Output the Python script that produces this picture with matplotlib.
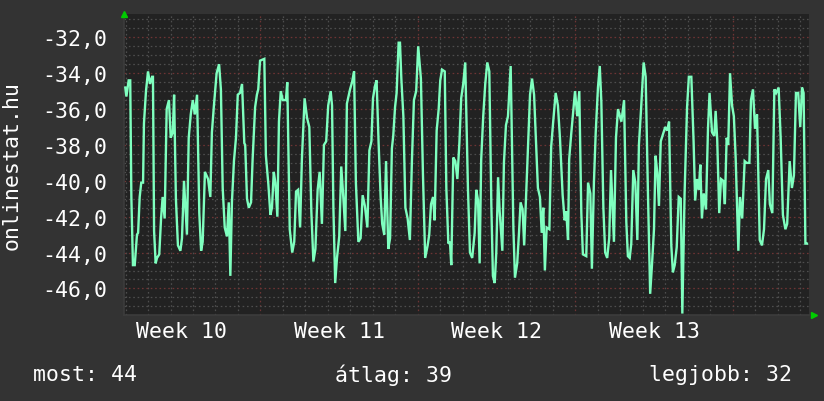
import matplotlib
matplotlib.use("Agg")
import matplotlib.pyplot as plt

# ---- data (time in days since start of Week 10, value) ----
days = [0.99, 1.04, 1.14, 1.21, 1.26, 1.33, 1.41, 1.44, 1.51, 1.56, 1.63, 1.70, 1.78, 1.82, 1.91, 2.00,
        2.09, 2.18, 2.22, 2.27, 2.34, 2.40, 2.50, 2.58, 2.65, 2.74, 2.83, 2.93, 3.01, 3.10, 3.16, 3.24,
        3.33, 3.44, 3.51, 3.60, 3.73, 3.81, 3.90, 3.99, 4.08, 4.18, 4.28, 4.36, 4.43, 4.53, 4.67, 4.77,
        4.84, 4.93, 5.05, 5.16, 5.24, 5.32, 5.41, 5.51, 5.59, 5.66, 5.73, 5.82, 5.91,
        5.99, 6.09, 6.18, 6.28, 6.32, 6.40, 6.48, 6.58, 6.65, 6.76, 6.84, 6.90, 6.98, 7.17, 7.24, 7.35,
        7.44, 7.51, 7.59, 7.66, 7.75, 7.82, 7.90, 7.99, 8.13, 8.19, 8.30, 8.41, 8.50, 8.58, 8.67, 8.76,
        8.84, 8.96, 9.07, 9.17, 9.26, 9.35, 9.44, 9.54, 9.63, 9.73, 9.82, 9.92, 10.01, 10.12, 10.18,
        10.24, 10.32, 10.40, 10.50, 10.59, 10.68, 10.77, 10.84, 10.98,
        11.07, 11.16, 11.24, 11.35, 11.45, 11.54, 11.64, 11.75, 11.84, 11.93, 12.00, 12.09, 12.16,
        12.25, 12.34, 12.41, 12.50, 12.58, 12.68, 12.76, 12.84, 12.90, 12.98, 13.05, 13.14, 13.20,
        13.26, 13.35, 13.44, 13.54, 13.64, 13.73, 13.82, 13.92, 14.01, 14.13, 14.22, 14.32, 14.43,
        14.50, 14.58, 14.67, 14.74, 14.83, 14.92, 14.99, 15.07, 15.19, 15.26, 15.35, 15.42, 15.48,
        15.57, 15.66, 15.75, 15.84, 15.92, 16.01, 16.10,
        16.22, 16.31, 16.41, 16.52, 16.59, 16.67, 16.74, 16.81, 16.90, 16.99, 17.08, 17.17, 17.26,
        17.33, 17.41, 17.48, 17.56, 17.63, 17.75, 17.82, 17.91, 18.00, 18.12, 18.24, 18.31, 18.41,
        18.49, 18.56, 18.65, 18.72, 18.80, 18.89, 18.98, 19.07, 19.16, 19.24, 19.33, 19.42, 19.50,
        19.57, 19.64, 19.72, 19.84, 19.92, 20.01, 20.12, 20.22, 20.31, 20.43, 20.52, 20.59, 20.67,
        20.72, 20.81, 20.90, 20.98, 21.08, 21.17,
        21.26, 21.33, 21.48, 21.56, 21.66, 21.73, 21.82, 21.90, 22.00, 22.08, 22.15, 22.24, 22.32,
        22.41, 22.50, 22.58, 22.71, 22.80, 22.89, 23.04, 23.16, 23.26, 23.33, 23.41, 23.48, 23.57,
        23.66, 23.75, 23.82, 23.92, 24.03, 24.12, 24.22, 24.32, 24.40, 24.49, 24.56, 24.64, 24.71,
        24.79, 24.89, 24.99, 25.08, 25.16, 25.26, 25.33, 25.41, 25.50, 25.59, 25.68, 25.75, 25.85,
        25.96, 26.04, 26.15,
        26.25, 26.32, 26.40, 26.48, 26.55, 26.62, 26.70, 26.80, 26.89, 26.96, 27.07, 27.17, 27.23,
        27.30, 27.39, 27.47, 27.57, 27.64, 27.72, 27.79, 27.87, 27.96, 28.04, 28.12, 28.24, 28.31,
        28.41, 28.52, 28.61, 28.73, 28.80, 28.89, 28.98, 29.07, 29.19, 29.29, 29.38, 29.47, 29.57,
        29.64, 29.75, 29.84, 29.92, 30.03, 30.12, 30.22, 30.33, 30.41, 30.52, 30.62, 30.71, 30.80,
        30.90, 30.99, 31.07, 31.14, 31.22, 31.29]

values = [-34.8, -35.3, -34.4, -34.4, -40.9, -44.7, -44.7, -44.2, -43.0, -42.9, -40.9, -40.1, -40.1, -36.8, -35.0, -33.9,
          -34.6, -34.2, -34.2, -42.8, -44.6, -44.3, -44.1, -42.1, -40.9, -42.1, -36.0, -35.5, -37.6, -37.3, -35.2, -41.0,
          -43.6, -43.9, -43.2, -40.0, -43.0, -37.6, -36.3, -35.5, -36.3, -35.2, -41.8, -43.9, -43.4, -39.5, -39.9, -40.9,
          -37.3, -35.8, -34.0, -33.5, -34.9, -40.4, -42.6, -43.1, -41.2, -45.3, -41.2, -38.9, -37.6,
          -35.2, -35.1, -34.6, -37.9, -38.0, -41.0, -41.5, -41.2, -38.8, -35.9, -35.2, -34.9, -33.3, -33.2, -38.6, -40.2,
          -41.9, -41.5, -39.5, -40.1, -42.0, -36.7, -35.0, -35.5, -35.5, -34.5, -42.7, -44.0, -43.4, -40.6, -40.5, -42.6,
          -38.8, -35.4, -36.5, -37.0, -41.7, -44.5, -43.8, -40.5, -39.5, -42.4, -38.0, -37.8, -35.8, -35.0, -35.8,
          -41.5, -45.7, -44.3, -43.1, -39.2, -40.9, -42.8, -35.7, -34.9,
          -34.5, -33.9, -40.1, -43.4, -43.2, -40.8, -41.4, -42.6, -38.3, -37.8, -35.4, -34.7, -34.4,
          -37.9, -40.9, -42.4, -43.0, -38.9, -43.8, -43.2, -38.2, -37.5, -35.9, -35.1, -32.3, -32.3,
          -34.3, -36.4, -41.5, -42.1, -43.3, -38.9, -35.5, -35.0, -32.5, -34.3, -39.6, -44.3, -43.6,
          -43.0, -41.3, -40.9, -42.2, -37.2, -36.0, -34.4, -33.8, -33.9, -40.4, -43.5, -43.4, -44.7,
          -38.7, -38.9, -39.9, -37.9, -35.4, -34.6, -33.4,
          -40.4, -44.0, -44.3, -42.9, -40.5, -41.1, -44.6, -38.8, -36.4, -34.6, -33.4, -33.9, -41.3,
          -45.3, -45.7, -44.0, -39.8, -41.7, -43.9, -39.0, -36.9, -36.4, -33.6, -42.6, -45.4, -44.6,
          -42.9, -41.2, -41.6, -43.6, -41.0, -38.0, -35.2, -34.3, -35.2, -37.6, -40.4, -40.9, -42.9,
          -41.5, -45.0, -42.6, -42.7, -38.1, -36.7, -35.1, -35.8, -37.6, -40.8, -42.2, -41.7, -43.3,
          -38.8, -37.4, -36.1, -35.0, -36.4, -35.0,
          -41.8, -44.1, -44.2, -40.1, -40.7, -44.9, -40.1, -37.3, -34.8, -33.6, -35.6, -41.5, -44.0,
          -44.3, -43.2, -39.4, -43.4, -37.6, -36.0, -36.7, -35.5, -42.3, -44.2, -44.3, -43.5, -39.4,
          -40.1, -43.3, -38.0, -35.9, -33.4, -34.2, -40.6, -46.3, -44.7, -42.7, -38.6, -39.6, -41.4,
          -37.8, -37.4, -37.0, -37.2, -36.7, -43.6, -45.1, -44.7, -43.7, -40.9, -41.0, -47.4, -40.7,
          -35.9, -34.2, -34.2,
          -37.8, -41.1, -39.9, -40.5, -39.1, -42.1, -40.7, -41.6, -37.1, -35.1, -37.3, -37.5, -36.1,
          -37.7, -41.8, -39.9, -40.0, -41.3, -37.6, -38.0, -34.0, -35.8, -36.4, -38.7, -43.9, -40.9,
          -42.1, -38.9, -39.0, -39.0, -35.5, -34.9, -37.1, -36.3, -43.3, -43.6, -42.7, -39.9, -39.4,
          -41.3, -41.8, -34.9, -35.1, -34.8, -37.6, -41.9, -42.7, -42.4, -38.9, -40.4, -39.7, -35.1,
          -35.1, -37.0, -34.8, -35.1, -43.5, -43.5]

y_ticks = [-46, -44, -42, -40, -38, -36, -34, -32]
y_tick_labels = ["-46,0", "-44,0", "-42,0", "-40,0", "-38,0", "-36,0", "-34,0", "-32,0"]
week_pos = [3.5, 10.5, 17.5, 24.5]
week_labels = ["Week 10", "Week 11", "Week 12", "Week 13"]
legend_texts = ["most: 44", "átlag: 39", "legjobb: 32"]
ylabel = "onlinestat.hu"

# ---- styling ----
W, H = 824, 402
BG = "#333333"
PLOT_BG = "#222222"
LINE = "#7fffbf"
TXT = "#ffffff"
FONT = ["DejaVu Sans Mono"]
FS = 15.5

fig = plt.figure(figsize=(W / 100, H / 100), dpi=100, facecolor=BG)
L, R, T, B = 124, 809, 15, 316
ax = fig.add_axes([L / W, 1 - B / H, (R - L) / W, (B - T) / H], facecolor=PLOT_BG)

x0, x1 = 0.933, 31.38
y0, y1 = -47.48, -30.7
ax.set_xlim(x0, x1)
ax.set_ylim(y0, y1)

# grid
dot = (0, (1.3, 2.2))
for d in range(1, 32):
    if d % 7 == 0:
        ax.axvline(d, color="#6e3434", lw=0.9, ls=dot, zorder=1)
    else:
        ax.axvline(d, color="#4e4e4e", lw=0.9, ls=dot, zorder=1)
k = -47.0
while k <= -31.0:
    if abs(k - round(k)) < 1e-6 and int(round(k)) % 2 == 0:
        ax.axhline(k, color="#6e3434", lw=0.9, ls=dot, zorder=1)
    else:
        ax.axhline(k, color="#4e4e4e", lw=0.9, ls=dot, zorder=1)
    k += 0.5

ax.plot(days, values, color=LINE, lw=1.7, zorder=3, solid_joinstyle="miter")

ax.set_yticks(y_ticks)
ax.set_yticklabels(y_tick_labels, fontfamily=FONT, fontsize=FS, color=TXT)
ax.set_xticks(week_pos)
ax.set_xticklabels(week_labels, fontfamily=FONT, fontsize=FS, color=TXT)
ax.tick_params(axis="y", length=0, pad=12)
ax.tick_params(axis="x", length=0, pad=4)

for s in ["top", "right"]:
    ax.spines[s].set_visible(False)
for s in ["left", "bottom"]:
    ax.spines[s].set_color("#3c3c3c")
    ax.spines[s].set_linewidth(1.2)

# axis arrows
ax.plot([x0], [y1], marker="^", color="#00cc00", ms=5, clip_on=False, zorder=5)
ax.plot([x1 + 0.22], [y0], marker=">", color="#00cc00", ms=5, clip_on=False, zorder=5)

ax.set_ylabel(ylabel, fontfamily=FONT, fontsize=FS, color=TXT, labelpad=15)

fig.text(33 / W, 1 - 375 / H, legend_texts[0], fontfamily=FONT, fontsize=FS, color=TXT, va="center", ha="left")
fig.text(335 / W, 1 - 375 / H, legend_texts[1], fontfamily=FONT, fontsize=FS, color=TXT, va="center", ha="left")
fig.text(792 / W, 1 - 375 / H, legend_texts[2], fontfamily=FONT, fontsize=FS, color=TXT, va="center", ha="right")

fig.savefig("out.png", dpi=100, facecolor=BG)
